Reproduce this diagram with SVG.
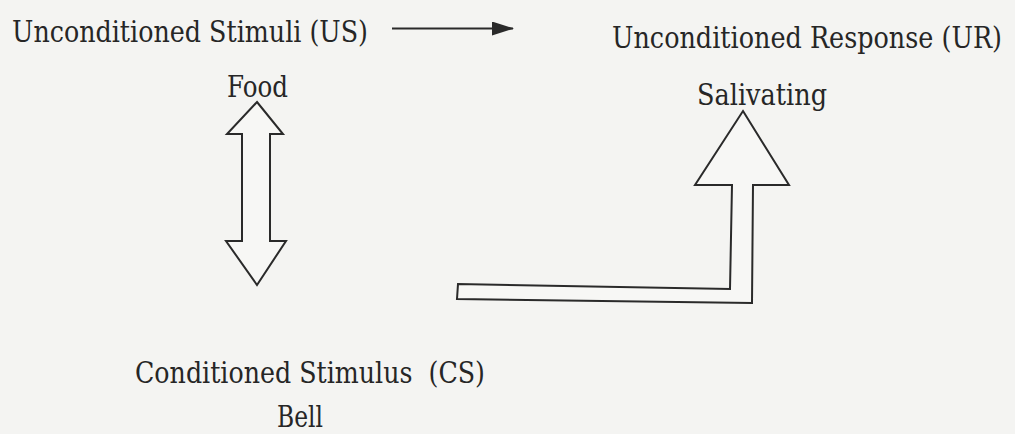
<svg xmlns="http://www.w3.org/2000/svg" width="1015" height="434" viewBox="0 0 1015 434">
<style>
.t{font-family:"DejaVu Serif",serif;font-size:30px;fill:#262626}
.blk{fill:#f7f7f5;stroke:#2a2a2a;stroke-width:2;stroke-linejoin:miter}
.ln{stroke:#2a2a2a;stroke-width:2;fill:none}
</style>
<defs>
<marker id="ah" markerWidth="22" markerHeight="14" refX="21" refY="7" orient="auto" markerUnits="userSpaceOnUse" viewBox="0 0 22 14">
<path d="M0,0 L22,7 L0,14 Z" fill="#2a2a2a"/>
</marker>
</defs>
<rect width="1015" height="434" fill="#f4f4f2"/>
<g id="us"><text class="t" x="12" y="42" textLength="356" lengthAdjust="spacingAndGlyphs">Unconditioned Stimuli (US)</text></g>
<g id="food"><text class="t" x="227" y="97" textLength="61" lengthAdjust="spacingAndGlyphs">Food</text></g>
<g id="ur"><text class="t" x="1002" y="48" text-anchor="end" textLength="390" lengthAdjust="spacingAndGlyphs">Unconditioned Response (UR)</text></g>
<g id="salivating"><text class="t" x="697" y="105" textLength="130" lengthAdjust="spacingAndGlyphs">Salivating</text></g>
<g id="cs"><text class="t" x="135" y="383" textLength="350" lengthAdjust="spacingAndGlyphs" xml:space="preserve">Conditioned Stimulus  (CS)</text></g>
<g id="bell"><text class="t" x="277" y="427" textLength="46" lengthAdjust="spacingAndGlyphs">Bell</text></g>
<g id="connectors">
<path class="ln" d="M392,28.5 H513" marker-end="url(#ah)"/>
<polygon class="blk" points="257,102 283,134 270,134 270,241 286,241 257,285 226,241 242,241 242,134 227,134"/>
<polygon class="blk" points="743,111 789,185 753,185 752,303 457,299 458,284 730,289 732,185 695,185"/>
</g>
</svg>
